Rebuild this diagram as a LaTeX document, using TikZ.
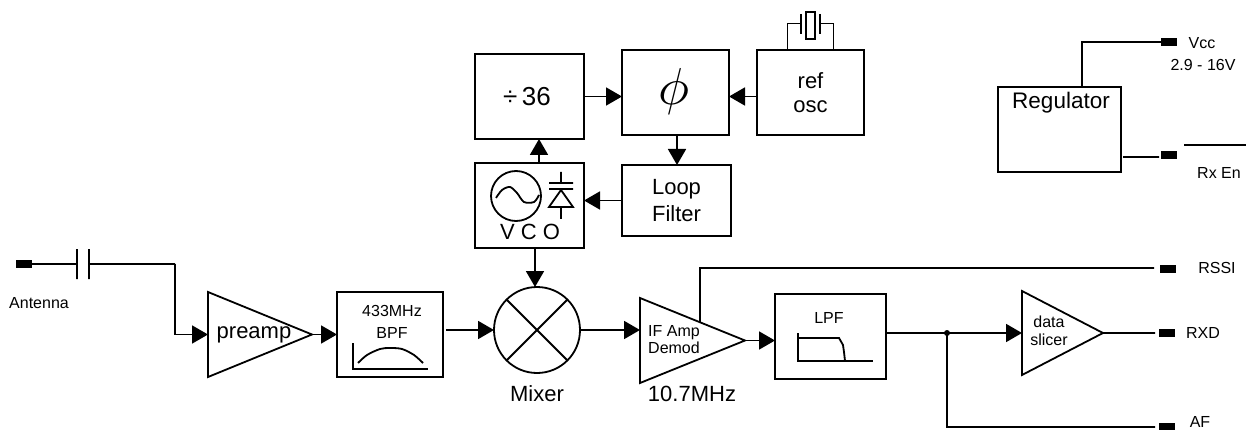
\documentclass[tikz,border=0pt]{standalone}
\usepackage{fontspec}
\setmainfont{Liberation Sans}
\usetikzlibrary{arrows.meta,calc,shapes.geometric}
\newcommand{\fs}[1]{\fontsize{#1}{#1}\selectfont}
\tikzset{
    blk/.style={draw,rectangle,outer sep=0pt,inner sep=0pt,align=center,font=\fs{22}},
    amp/.style={draw,isosceles triangle,isosceles triangle stretches,outer sep=0pt,inner sep=0pt,anchor=lower side},
    pad/.style={rectangle,fill=black,outer sep=0pt,inner sep=0pt,minimum width=15.5pt,minimum height=8pt},
    lbl/.style={inner sep=0pt,align=center,font=\fs{16}},
    big/.style={inner sep=0pt,align=center,font=\fs{22}},
    tip/.style={-{Triangle[length=16pt,width=18pt]}}
}
\begin{document}
\begin{tikzpicture}[x=1pt,y=-1pt,line width=1.8pt]
\useasboundingbox (0,0) rectangle (1246,430);
\node[blk,minimum width=109pt,minimum height=85pt] (div) at (529.5,96.5) {};
\node[inner sep=0pt,font=\fs{26}] (divt) at (527,97) {÷\,36};
\node[blk,minimum width=107pt,minimum height=85pt] (det) at (675.5,92.5) {};
\node[inner sep=0pt,scale=5.2] (phi) at (674,92) {$\phi$};
\node[blk,minimum width=107pt,minimum height=85pt] (ref) at (810.5,92.5) {ref\\[2pt]osc};
\node[blk,minimum width=109pt,minimum height=71pt] (loop) at (676.5,200.5) {Loop\\[5pt]Filter};
\node[blk,minimum width=109pt,minimum height=85pt] (vco) at (529.5,205.5) {};
\node[blk,minimum width=106pt,minimum height=85pt] (bpf) at (390,334.5) {};
\node[blk,minimum width=111pt,minimum height=85pt] (lpf) at (830.5,336.5) {};
\node[blk,minimum width=123pt,minimum height=85pt] (reg) at (1059.5,129.5) {};
\node[amp,minimum width=85pt,minimum height=104pt] (pre) at (208,334.5) {};
\node[amp,minimum width=85pt,minimum height=105pt] (ifa) at (640,340.5) {};
\node[amp,minimum width=84pt,minimum height=81pt] (sli) at (1022,333) {};
\node[draw,circle,outer sep=0pt,inner sep=0pt,minimum size=86pt] (mix) at (537,330) {};
\node[pad] (pant) at (24,264) {};
\node[pad] (pvcc) at (1169,42) {};
\node[pad] (pen) at (1169,155) {};
\node[pad] (prssi) at (1168,268.5) {};
\node[pad] (prxd) at (1167,333) {};
\node[pad] (paf) at (1167,427) {};
\coordinate (ant) at (175,264);
\coordinate (jct) at (947,333);
\coordinate (tap) at (700,322);
\draw
    (pant.east) -- (77,264) (77,249) -- (77,279) (89,249) -- (89,279) (89,264) -- (ant)
    (pvcc.west) -- (1082,42) -- (1082,87)
    (1123,157) -- (1159,157)
    (tap) -- (700,268) -- (1154,268)
    (sli.apex) -- (1155,333)
    (jct) -- (947,427) -- (1155,427)
    (1184,145) -- (1246,145)
    (mix.45) -- (mix.225) (mix.135) -- (mix.315)
;
\draw[tip] (ant) -- (175,334.5) -- (pre.lower side);
\draw[tip] (pre.apex) -- (bpf.west);
\draw[tip] (446,330) -- (mix.west);
\draw[tip] (mix.east) -- (ifa.lower side|-mix.east);
\draw[tip] (ifa.apex) -- (lpf.west|-ifa.apex);
\draw[tip] (lpf.east|-jct) -- (sli.lower side);
\draw[tip] (535,248) -- (535,287);
\draw[tip] (539,163) -- (539,139);
\draw[tip] (div.east) -- (det.west|-div.east);
\draw[tip] (ref.west|-div.east) -- (det.east|-div.east);
\draw[tip] (677,135) -- (677,165);
\draw[tip] (loop.west) -- (vco.east|-loop.west);
\fill (jct) circle (3pt);
% crystal
\draw[line width=1pt] (787,50) -- (787,24) -- (801,24) (820,24) -- (833,24) -- (833,50);
\draw (801,14) -- (801,34) (820,14) -- (820,34);
\draw[line width=1.2pt] (806,12) rectangle (815,39);
% vco symbols
\node[draw,circle,outer sep=0pt,inner sep=0pt,minimum size=50pt] (osc) at (516,196) {};
\draw plot[smooth] coordinates {(496,198) (502,190) (510,187) (517,193) (524,202) (534,202) (539,195)};
\draw (561,172) -- (561,182) (549,183) -- (573,183) (549,189) -- (573,189) (561,190) -- (549,207) -- (573,207) -- cycle (561,207) -- (561,219);
\node[big] (vcot) at (530,232) {V C O};
% filter curves
\draw (353,343) -- (353,369) -- (428,369);
\draw plot[smooth] coordinates {(358,363) (367,355) (380,349) (390,348) (402,349) (414,355) (423,363)};
\draw (798,333) -- (798,361) -- (873,361);
\draw (798,338) -- (839,338) -- (843,345) -- (844,352) -- (845,361);
\node[big] (pret) at (254,335) {preamp};
\node[lbl] (bpft) at (392,322) {433MHz\\[6pt]BPF};
\node[big] (mixt) at (537,394) {Mixer};
\node[lbl,align=left] (ifat) at (674,339.5) {IF Amp\\[1pt]Demod};
\node[big] (ift) at (692,394) {10.7MHz};
\node[lbl] (lpft) at (829,318) {LPF};
\node[lbl] (slit) at (1049,331) {data\\[2pt]slicer};
\node[big,font=\fs{22.5}] (regt) at (1061,103) {Regulator};
\node[lbl] (antt) at (39,303) {Antenna};
\node[lbl] (vcct) at (1202,43) {Vcc};
\node[lbl] (volt) at (1203,65) {2.9 - 16V};
\node[lbl] (ent) at (1219,173) {Rx En};
\node[lbl] (rssit) at (1217,268) {RSSI};
\node[lbl] (rxdt) at (1203,333) {RXD};
\node[lbl] (aft) at (1200,422) {AF};
\end{tikzpicture}
\end{document}
